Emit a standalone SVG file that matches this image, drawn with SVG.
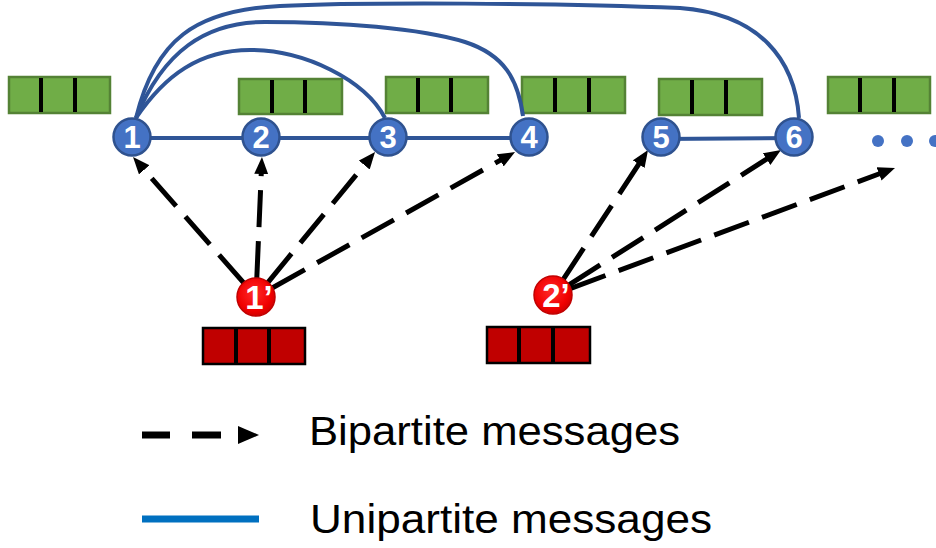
<svg xmlns="http://www.w3.org/2000/svg" width="936" height="548" viewBox="0 0 936 548">
  <style>
    .feat { fill: #70AD47; stroke: #548235; stroke-width: 2.5; }
    .feat-red { fill: #C00000; stroke: #000000; stroke-width: 2.5; }
    .cell { stroke: #000000; stroke-width: 4; }
    .node { fill: #4472C4; stroke: #2F528F; stroke-width: 2.5; }
    .rnode { fill: url(#redFill); stroke: #C00000; stroke-width: 1.5; }
    .nlabel { font-family: "Liberation Sans", Arial, sans-serif; font-weight: bold; font-size: 31px; fill: #FFFFFF; text-anchor: middle; }
    .rlabel { font-family: "Liberation Sans", Arial, sans-serif; font-weight: bold; font-size: 33px; fill: #FFFFFF; text-anchor: middle; }
    .uni { fill: none; stroke: #2F5597; stroke-width: 4; }
    .bi { fill: none; stroke: #000000; stroke-width: 5; stroke-dasharray: 37 14; marker-end: url(#head); }
    .legend { font-family: "Liberation Sans", Arial, sans-serif; font-size: 40px; fill: #000000; }
  </style>
  <defs>
    <radialGradient id="redFill" cx="0.45" cy="0.4" r="0.65">
      <stop offset="0" stop-color="#FF2A2A"/>
      <stop offset="0.7" stop-color="#F00000"/>
      <stop offset="1" stop-color="#C80000"/>
    </radialGradient>
    <marker id="head" markerUnits="userSpaceOnUse" markerWidth="20" markerHeight="16" refX="4" refY="7" orient="auto">
      <path d="M0,0 L17,7 L0,14 Z" fill="#000000"/>
    </marker>
  </defs>

  <!-- feature vectors of the unipartite nodes -->
  <g id="features">
    <g id="feat-a"><rect class="feat" x="9" y="77" width="101" height="36"/><line class="cell" x1="41" y1="78" x2="41" y2="112"/><line class="cell" x1="75" y1="78" x2="75" y2="112"/></g>
    <g id="feat-b"><rect class="feat" x="239" y="79" width="103" height="35"/><line class="cell" x1="272" y1="80" x2="272" y2="113"/><line class="cell" x1="305" y1="80" x2="305" y2="113"/></g>
    <g id="feat-c"><rect class="feat" x="386" y="77" width="102" height="36"/><line class="cell" x1="418" y1="78" x2="418" y2="112"/><line class="cell" x1="451" y1="78" x2="451" y2="112"/></g>
    <g id="feat-d"><rect class="feat" x="522" y="77" width="103" height="36"/><line class="cell" x1="555" y1="78" x2="555" y2="112"/><line class="cell" x1="589" y1="78" x2="589" y2="112"/></g>
    <g id="feat-e"><rect class="feat" x="659" y="79" width="103" height="36"/><line class="cell" x1="692" y1="80" x2="692" y2="114"/><line class="cell" x1="726" y1="80" x2="726" y2="114"/></g>
    <g id="feat-f"><rect class="feat" x="828" y="77" width="102" height="36"/><line class="cell" x1="860" y1="78" x2="860" y2="112"/><line class="cell" x1="894" y1="78" x2="894" y2="112"/></g>
  </g>

  <!-- feature vectors of the bipartite nodes -->
  <g id="features-red">
    <g id="feat-r1"><rect class="feat-red" x="203" y="328" width="102" height="36"/><line class="cell" x1="236" y1="329" x2="236" y2="363"/><line class="cell" x1="269" y1="329" x2="269" y2="363"/></g>
    <g id="feat-r2"><rect class="feat-red" x="487" y="327" width="103" height="36"/><line class="cell" x1="519" y1="328" x2="519" y2="362"/><line class="cell" x1="553" y1="328" x2="553" y2="362"/></g>
  </g>

  <!-- connectors -->
  <g id="connectors">
    <!-- unipartite messages -->
    <path class="uni" d="M133,138 L529,138"/>
    <path class="uni" d="M661,139 L794,138"/>
    <path class="uni" d="M136,118 C165,75 200,50 250,50 C305,50 365,80 385,118"/>
    <path class="uni" d="M136,118 C163,52 205,22 265,22 C340,22 420,28 465,42 C505,55 518,80 523,116"/>
    <path class="uni" d="M136,118 C155,40 195,10 280,6 C360,2 560,3 680,8 C760,14 795,60 799,118"/>
    <!-- bipartite messages -->
    <path class="bi" d="M243.5,282.7 L141.6,166.8"/>
    <path class="bi" d="M256.8,278 L261.4,170"/>
    <path class="bi" d="M268,282.3 L366.8,162"/>
    <path class="bi" d="M272.6,287.7 L503.7,158.4"/>
    <path class="bi" d="M563.4,279.1 L640.9,160.9"/>
    <path class="bi" d="M569,284.8 L770,157"/>
    <path class="bi" d="M570.8,288.4 L882.8,172.5"/>
  </g>

  <!-- unipartite nodes -->
  <g id="n1"><circle class="node" cx="132" cy="137" r="18.5"/><text class="nlabel" x="132" y="148">1</text></g>
  <g id="n2"><circle class="node" cx="261" cy="137" r="18.5"/><text class="nlabel" x="261" y="148">2</text></g>
  <g id="n3"><circle class="node" cx="388" cy="137" r="18.5"/><text class="nlabel" x="388" y="148">3</text></g>
  <g id="n4"><circle class="node" cx="529" cy="137" r="18.5"/><text class="nlabel" x="529" y="148">4</text></g>
  <g id="n5"><circle class="node" cx="661" cy="137" r="18.5"/><text class="nlabel" x="661" y="148">5</text></g>
  <g id="n6"><circle class="node" cx="794" cy="137" r="18.5"/><text class="nlabel" x="794" y="148">6</text></g>
  <g id="more" fill="#4472C4">
    <circle cx="878" cy="141" r="6"/>
    <circle cx="907" cy="141" r="6"/>
    <circle cx="935" cy="141" r="6"/>
  </g>

  <!-- bipartite nodes -->
  <g id="b1"><circle class="rnode" cx="256" cy="297" r="19"/><text class="rlabel" x="259" y="309">1’</text></g>
  <g id="b2"><circle class="rnode" cx="553" cy="295" r="19"/><text class="rlabel" x="556" y="307">2’</text></g>

  <!-- legend -->
  <g id="legend">
    <line x1="142" y1="435" x2="170" y2="435" stroke="#000000" stroke-width="7"/>
    <line x1="192" y1="435" x2="221" y2="435" stroke="#000000" stroke-width="7"/>
    <path d="M238,426 L259,435 L238,444 Z" fill="#000000"/>
    <text class="legend" x="309" y="445" textLength="371" lengthAdjust="spacingAndGlyphs">Bipartite messages</text>
    <line x1="142" y1="519" x2="259" y2="519" stroke="#0070C0" stroke-width="7"/>
    <text class="legend" x="310" y="533" textLength="402" lengthAdjust="spacingAndGlyphs">Unipartite messages</text>
  </g>
</svg>
